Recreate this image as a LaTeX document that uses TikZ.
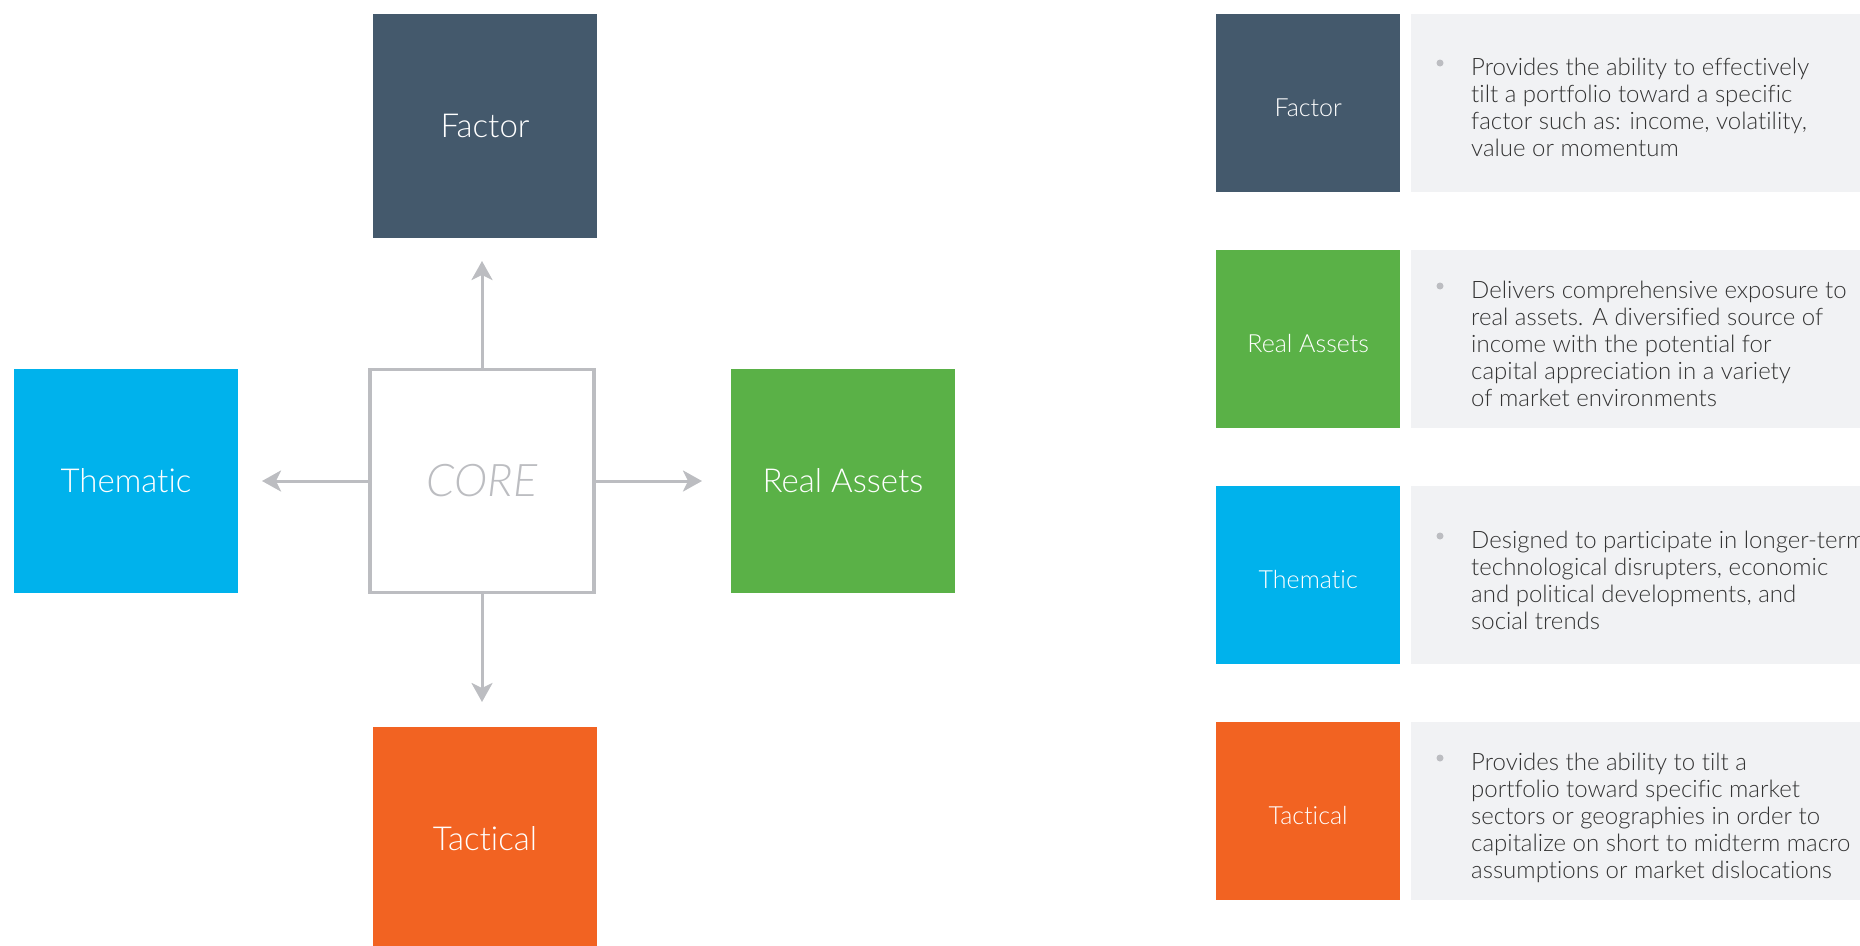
\documentclass[tikz,border=0pt]{standalone}
\usepackage{fontspec}
\setmainfont{Lato}[UprightFont={* Light}, ItalicFont={* Light Italic}, Ligatures={NoCommon}]
\usetikzlibrary{arrows.meta}
\definecolor{cfactor}{HTML}{44596C}
\definecolor{creal}{HTML}{5AB147}
\definecolor{ctheme}{HTML}{00B2EC}
\definecolor{ctact}{HTML}{F26322}
\definecolor{cpanel}{HTML}{F1F2F4}
\definecolor{cline}{HTML}{BCBDC1}
\definecolor{ctext}{HTML}{333333}
\newcommand\taglabel[1]{\raisebox{-13pt}[0pt][0pt]{#1}}
\begin{document}
\begin{tikzpicture}[x=1pt,y=-1pt,
  bigbox/.style={rectangle, inner sep=0, minimum width=224pt, minimum height=224pt,
    text=white, font=\fontsize{33}{40}\selectfont},
  corebox/.style={rectangle, draw=cline, line width=3.3pt, fill=white, inner sep=0,
    minimum width=224pt, minimum height=223pt, text=cline,
    font=\fontsize{45}{50}\selectfont\itshape},
  arr/.style={draw=cline, line width=3pt, -{Stealth[length=19pt,width=21pt,inset=5pt]}},
  tag/.style={rectangle, inner sep=0, minimum width=184pt, minimum height=178pt,
    text=white, font=\fontsize{25}{30}\selectfont},
  panel/.style={rectangle, fill=cpanel, inner sep=0, minimum width=460pt, minimum height=178pt},
  desc/.style={anchor=base west, inner sep=0, text=ctext, font=\fontsize{24}{27}\selectfont},
  dot/.style={circle, fill=cline, inner sep=0, minimum size=7pt}
]
\useasboundingbox (0,0) rectangle (1860,945);

% ---- left diagram ----
\node[bigbox, fill=cfactor] (factor) at (485,126) {Factor};
\node[bigbox, fill=ctheme] (thematic) at (126,481) {Thematic};
\node[bigbox, fill=creal] (real) at (843,481) {Real Assets};
\node[bigbox, fill=ctact] (tactical) at (485,839) {Tactical};
\node[corebox] (core) at (482,481) {CORE};

\coordinate (tipN) at (482,261);
\coordinate (tipS) at (482,702);
\coordinate (tipW) at (262,481);
\coordinate (tipE) at (702,481);
\draw[arr] (core.north) -- (tipN);
\draw[arr] (core.south) -- (tipS);
\draw[arr] (core.west) -- (tipW);
\draw[arr] (core.east) -- (tipE);

% ---- right legend ----
\node[tag, fill=cfactor, anchor=north west] (tfactor) at (1216,14) {\taglabel{Factor}};
\node[panel, anchor=north west] (pfactor) at (1411,14) {};
\node[dot] (dfactor) at (1440,63) {};
\node[desc] (xfactor) at (1471,75) {\vtop{\hbox{Provides the ability to effectively}
  \hbox{tilt a portfolio toward a specific}
  \hbox{factor such as: income, volatility,}
  \hbox{value or momentum}}};

\node[tag, fill=creal, anchor=north west] (treal) at (1216,250) {\taglabel{Real Assets}};
\node[panel, anchor=north west] (preal) at (1411,250) {};
\node[dot] (dreal) at (1440,286) {};
\node[desc] (xreal) at (1471,298) {\vtop{\hbox{Delivers comprehensive exposure to}
  \hbox{real assets. A diversified source of}
  \hbox{income with the potential for}
  \hbox{capital appreciation in a variety}
  \hbox{of market environments}}};

\node[tag, fill=ctheme, anchor=north west] (ttheme) at (1216,486) {\taglabel{Thematic}};
\node[panel, anchor=north west] (ptheme) at (1411,486) {};
\node[dot] (dtheme) at (1440,536) {};
\node[desc] (xtheme) at (1471,548) {\vtop{\hbox{Designed to participate in longer-term}
  \hbox{technological disrupters, economic}
  \hbox{and political developments, and}
  \hbox{social trends}}};

\node[tag, fill=ctact, anchor=north west] (ttact) at (1216,722) {\taglabel{Tactical}};
\node[panel, anchor=north west] (ptact) at (1411,722) {};
\node[dot] (dtact) at (1440,758) {};
\node[desc] (xtact) at (1471,770) {\vtop{\hbox{Provides the ability to tilt a}
  \hbox{portfolio toward specific market}
  \hbox{sectors or geographies in order to}
  \hbox{capitalize on short to midterm macro}
  \hbox{assumptions or market dislocations}}};
\end{tikzpicture}
\end{document}
